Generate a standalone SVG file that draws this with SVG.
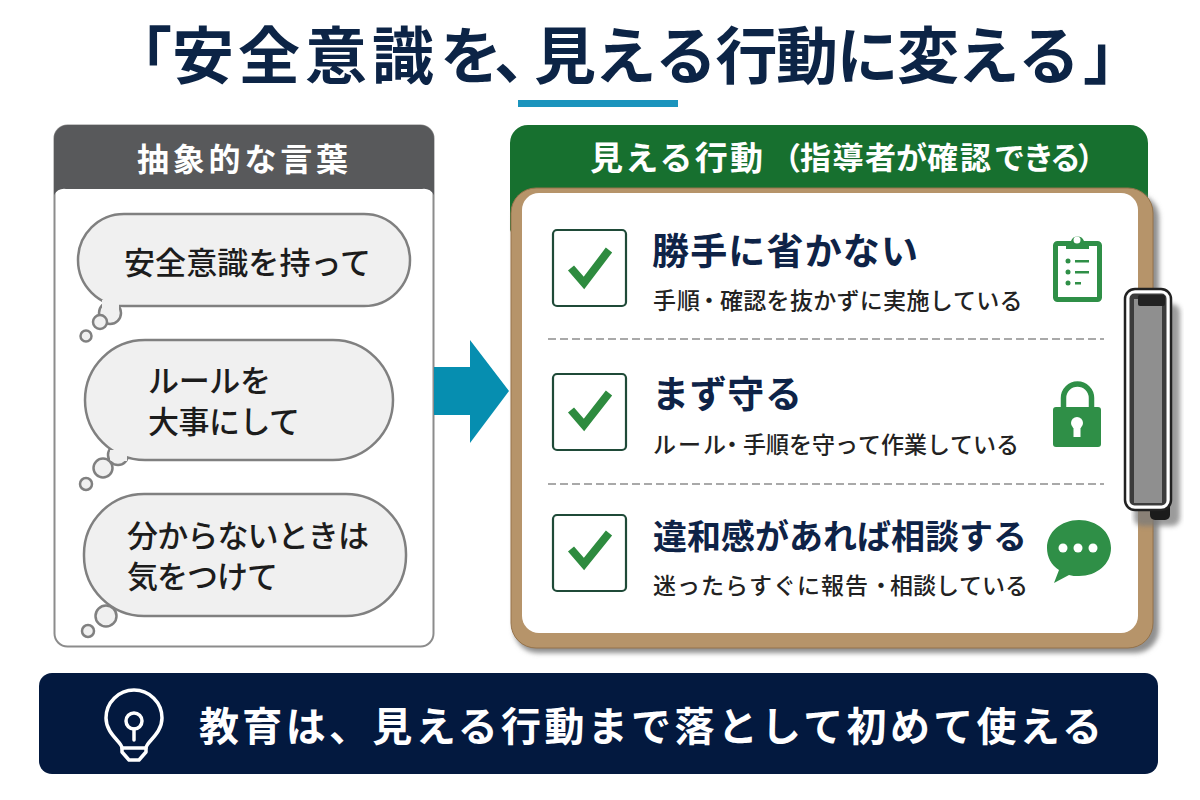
<svg xmlns="http://www.w3.org/2000/svg" width="1200" height="800" viewBox="0 0 1200 800">
<style>
text{font-family:"Noto Sans CJK JP","Noto Sans",sans-serif;}
.t{font-weight:700;fill:#0c2446}
.h{font-weight:700;fill:#fff}
.b{font-weight:500;fill:#1c1c1c;font-size:31px}
.s{font-weight:500;fill:#222;font-size:23px}
.m{font-weight:700;fill:#0e2347}
.bub{fill:#f0f0f0;stroke:#808080;stroke-width:2.500}
.chk{fill:#fff;stroke:#1f4a38;stroke-width:2.200}
.tick{fill:none;stroke:#2e8b3f;stroke-width:8}
.dash{stroke:#a9a9a9;stroke-width:2;stroke-dasharray:8 4}
.ic{fill:#2f8f47}
</style>
<defs><filter id="sh" x="-5%" y="-5%" width="112%" height="112%"><feGaussianBlur stdDeviation="2.500"/></filter></defs>
<rect width="1200" height="800" fill="#fff"/>
<g id="title">
<text class="t" font-size="62" y="79" x="110 172 238 305 372 440 494 534 594.500 655 715.500 776 836.500 897 957.500 1018 1083">「安全意識を、見える行動に変える」</text>
<rect x="518" y="100" width="160" height="7" fill="#1b94bd"/>
</g>
<g id="left-panel">
<rect x="54.500" y="125.500" width="379" height="521" rx="13" fill="#fff" stroke="#8c8c8c" stroke-width="2"/>
<path d="M54 195V139a14 14 0 0 1 14-14H420a14 14 0 0 1 14 14V195a12 12 0 0 0-12-6H66a12 12 0 0 0-12 6Z" fill="#58595b"/>
<text class="h" x="137" y="171" font-size="32" textLength="211">抽象的な言葉</text>
</g>
<g id="bubble-1">
<circle class="bub" cx="110" cy="313" r="11"/>
<rect class="bub" x="78" y="214" width="332" height="92" rx="46"/>
<rect x="102" y="300" width="17" height="12" fill="#f0f0f0"/>
<circle class="bub" cx="100" cy="322" r="7"/><circle class="bub" cx="86" cy="336" r="5.500"/>
<text class="b" x="124" y="274" textLength="247">安全意識を持って</text>
</g>
<g id="bubble-2">
<circle class="bub" cx="118" cy="455" r="10"/>
<rect class="bub" x="85" y="340" width="308" height="120" rx="60"/>
<rect x="110" y="450" width="17" height="11" fill="#f0f0f0"/>
<circle class="bub" cx="103" cy="468" r="9.500"/><circle class="bub" cx="86" cy="484" r="6"/>
<text class="b" x="148" y="392" textLength="123">ルールを</text>
<text class="b" x="148" y="433" textLength="152">大事にして</text>
</g>
<g id="bubble-3">
<rect class="bub" x="84" y="494" width="322" height="122" rx="60"/>
<circle class="bub" cx="106" cy="616" r="10.500"/><circle class="bub" cx="88" cy="631" r="6"/>
<text class="b" x="127" y="547" textLength="242">分からないときは</text>
<text class="b" x="127" y="588" textLength="151">気をつけて</text>
</g>
<g id="arrow"><polygon points="434,367 470,367 470,340 509,391 470,443 470,415 434,415" fill="#068eb0"/></g>
<g id="right-panel">
<path d="M510 232V143a18 18 0 0 1 18-18H1130a18 18 0 0 1 18 18V210H520Z" fill="#17702f"/>
<text class="h" font-size="33" x="590" y="170" textLength="173">見える行動</text>
<text class="h" font-size="31" y="169" x="770 800 832.500 865 896 927 960 994 1023 1050 1077">（指導者が確認できる）</text>
<rect x="514" y="194" width="645" height="459" rx="24" fill="#8f8f8f" filter="url(#sh)"/>
<rect x="511" y="188" width="642" height="460" rx="25" fill="#b6946a"/>
<path d="M511 213a25 25 0 0 1 25-25H1128a25 25 0 0 1 25 25V623a25 25 0 0 1-25 25H536a25 25 0 0 1-25-25Z" fill="none" stroke="#96734a" stroke-width="1"/>
<rect x="522" y="193" width="616" height="440" rx="17" fill="#fff"/>
</g>
<g id="clip">
<rect x="1134" y="304" width="46" height="222" rx="8" fill="#7a7a7a" filter="url(#sh)" opacity="0.75"/>
<rect x="1150" y="500" width="20" height="20" rx="5" fill="#1b1b1b"/>
<rect x="1125" y="289" width="46" height="221" rx="10" fill="#fff" stroke="#222" stroke-width="2.500"/>
<rect x="1129.500" y="293.500" width="37" height="212" rx="5" fill="#3c3c3c"/>
<rect x="1134" y="299" width="28" height="204" fill="#8f8f8f"/>
<rect x="1138" y="295" width="27" height="11" rx="2" fill="#222"/>
</g>
<g id="item-1">
<rect class="chk" x="553" y="230" width="73" height="76" rx="4"/>
<path class="tick" d="M571 268L584 283L609 250"/>
<text class="m" font-size="37" x="652" y="265" textLength="266">勝手に省かない</text>
<text class="s" y="309" x="653 677 697.500 720 743.300 766.600 789.900 813.200 836.500 859.800 883.100 906.400 929.700 953 976.300 999.600">手順・確認を抜かずに実施している</text>
<rect x="1055.500" y="243.500" width="44" height="56" rx="2" fill="none" stroke="#2f8f47" stroke-width="5"/>
<path class="ic" d="M1066 249v-5a3 3 0 0 1 3-3h2a7 7 0 0 1 13 0h2a3 3 0 0 1 3 3v5Z"/>
<circle cx="1077" cy="240" r="3.500" fill="#fff"/>
<g class="ic"><circle cx="1068" cy="261" r="2.500"/><circle cx="1068" cy="272" r="2.500"/><circle cx="1068" cy="283" r="2.500"/><rect x="1075" y="260" width="14" height="2.500"/><rect x="1075" y="271" width="14" height="2.500"/><rect x="1075" y="282" width="6" height="2.500"/></g>
</g>
<line class="dash" x1="548" y1="339" x2="1104" y2="339"/>
<g id="item-2">
<rect class="chk" x="553" y="374" width="73" height="76" rx="4"/>
<path class="tick" d="M571 410L584 425L609 393"/>
<text class="m" font-size="37" x="652" y="408" textLength="150">まず守る</text>
<text class="s" y="453" x="653 678 703 720.500 743 766 789 812 835 858 881 904 927 950 973 996">ルール・手順を守って作業している</text>
<rect class="ic" x="1053" y="407" width="48" height="40" rx="3"/>
<path d="M1063.500 408V398a14 14 0 0 1 28 0V408" fill="none" stroke="#2f8f47" stroke-width="5.500"/>
<circle cx="1077" cy="423" r="6" fill="#fff"/><rect x="1073.500" y="424" width="7" height="13" fill="#fff"/>
</g>
<line class="dash" x1="548" y1="484" x2="1104" y2="484"/>
<g id="item-3">
<rect class="chk" x="553" y="515" width="73" height="76" rx="4"/>
<path class="tick" d="M571 549L584 564L609 533"/>
<text class="m" font-size="34" x="653" y="549" textLength="374">違和感があれば相談する</text>
<text class="s" y="594" x="653 677 701 725 749 773 797 821 845 869.500 890 913 936 959 982 1005">迷ったらすぐに報告・相談している</text>
<path class="ic" d="M1079 520c18 0 32 12 32 28s-14 28-32 28c-4 0-7 0-10-1l-15 8l5-13c-8-5-12-13-12-22c0-16 14-28 32-28Z"/>
<g fill="#fff"><circle cx="1063" cy="548" r="4.500"/><circle cx="1078" cy="548" r="4.500"/><circle cx="1093" cy="548" r="4.500"/></g>
</g>
<g id="footer">
<rect x="39" y="673" width="1119" height="101" rx="13" fill="#03193f"/>
<g fill="none" stroke="#fff" stroke-width="3.500" stroke-linecap="round" stroke-linejoin="round">
<path d="M122 748c0-6-16-14-16-30a28 28 0 0 1 56 0c0 16-16 24-16 30l0 4l-7 8h-10l-7-8Z"/><path d="M122 748h24"/>
<circle cx="134" cy="721" r="8"/><path d="M134 729v11"/>
</g>
<text class="h" x="199" y="741" font-size="40" textLength="903">教育は、見える行動まで落として初めて使える</text>
</g>
</svg>
